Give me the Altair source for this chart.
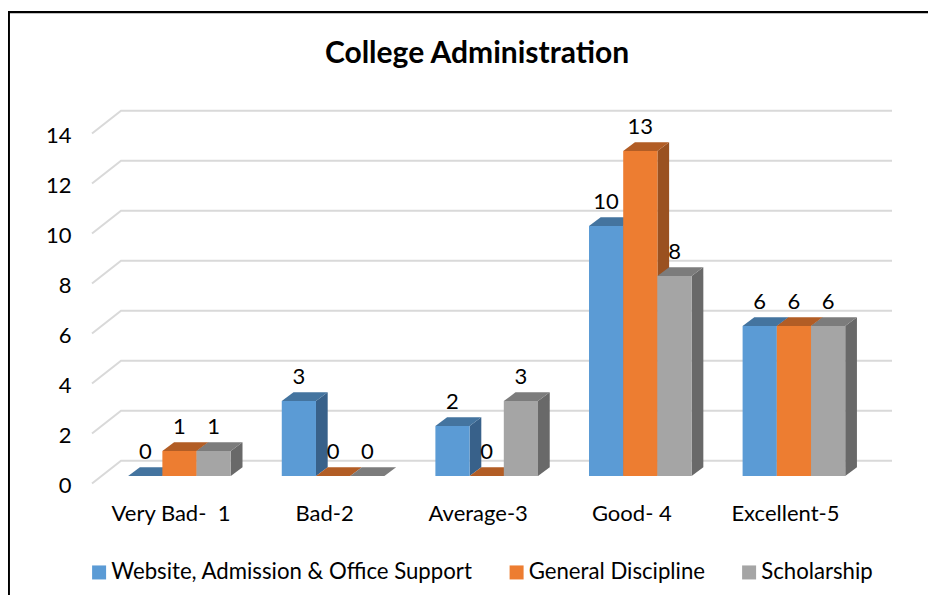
import altair as alt
import pandas as pd

categories = ["Very Bad-\u00a0 1", "Bad-2", "Average-3", "Good- 4", "Excellent-5"]
series = ["Website, Admission & Office Support", "General Discipline", "Scholarship"]
website = [0, 3, 2, 10, 6]
discipline = [1, 0, 0, 13, 6]
scholarship = [1, 0, 3, 8, 6]
y_ticks = [0, 2, 4, 6, 8, 10, 12, 14]
front_colors = ["#5B9BD5", "#ED7D31", "#A5A5A5"]
top_colors = ["#44749F", "#B25D25", "#7C7C7C"]
side_colors = ["#38618A", "#9A5120", "#696969"]

FONT = "Lato"
SIZE = 22
X_DOMAIN = [-0.511, 4.697]
Y_DOMAIN = [-0.3, 14.62]
BAR = 0.2227           # bar width in category units
LEFT = -0.2227 * 1.5 + 0.0585  # first bar's left edge relative to the category
DX, DY = 0.0762, 0.348  # bar depth
WALL_DX, WALL_DY = 0.189, 0.912  # wall depth

xs = alt.Scale(domain=X_DOMAIN, nice=False, zero=False)
ys = alt.Scale(domain=Y_DOMAIN, nice=False, zero=False)
x_axis = alt.Axis(values=list(range(5)), labelExpr=f"{categories}[datum.value]", domain=False, ticks=False,
                  grid=False, labelPadding=20, labelFontSize=SIZE, labelFont=FONT, labelColor="#000000",
                  labelFlush=False, labelOverlap=False, labelBound=False, labelAngle=0)
y_axis = alt.Axis(values=y_ticks, domain=False, ticks=False, grid=False, labelPadding=21, labelFontSize=SIZE,
                  labelFont=FONT, labelColor="#000000", labelOffset=9, labelFlush=False, labelOverlap=False,
                  labelBound=False)


def X():
    return alt.X("x:Q", scale=xs, title=None, axis=x_axis)


def Y():
    return alt.Y("y:Q", scale=ys, title=None, axis=y_axis)


# walls
grid_rows = []
for v in y_ticks:
    grid_rows += [
        {"v": v, "x": X_DOMAIN[0], "y": v - 0.3},
        {"v": v, "x": X_DOMAIN[0] + WALL_DX, "y": v - 0.3 + WALL_DY},
        {"v": v, "x": X_DOMAIN[1], "y": v - 0.3 + WALL_DY},
    ]
grid = alt.Chart(pd.DataFrame(grid_rows)).mark_line(color="#D9D9D9", strokeWidth=2).encode(
    x=X(), y=Y(), detail="v:N",
)

layers = [grid]
label_rows = []
for s, (name, vals) in enumerate(zip(series, [website, discipline, scholarship])):
    front, top, side = [], [], []
    for i, v in enumerate(vals):
        x0 = i + LEFT + s * BAR
        x1 = x0 + BAR
        front.append({"x": x0, "x2": x1, "y": 0, "y2": v, "s": name})
        top += [{"g": i, "y": v, "x": x0, "x2": x1}, {"g": i, "y": v + DY, "x": x0 + DX, "x2": x1 + DX}]
        side += [{"g": i, "x": x1, "y": 0, "y2": v}, {"g": i, "x": x1 + DX, "y": DY, "y2": v + DY}]
        label_rows.append({"x": x0 + BAR / 2, "y": v, "t": str(v)})
    layers.append(alt.Chart(pd.DataFrame(side)).mark_area(orient="vertical", color=side_colors[s]).encode(
        x=X(), y=Y(), y2="y2:Q", detail="g:N"))
    layers.append(alt.Chart(pd.DataFrame(top)).mark_area(orient="horizontal", color=top_colors[s]).encode(
        x=X(), x2="x2:Q", y=Y(), detail="g:N"))
    layers.append(alt.Chart(pd.DataFrame(front)).mark_rect().encode(
        x=X(), x2="x2:Q", y=Y(), y2="y2:Q",
        color=alt.Color("s:N", scale=alt.Scale(domain=series, range=front_colors),
                        legend=alt.Legend(title=None, orient="none", legendX=-4, legendY=450.5, direction="horizontal",
                                          columns=3, symbolType="square", symbolSize=196, symbolStrokeWidth=0,
                                          symbolOpacity=1, labelFont=FONT, labelFontSize=22.2, labelColor="#000000",
                                          labelOffset=1, columnPadding=32.5, labelLimit=500)),
    ))

labels = alt.Chart(pd.DataFrame(label_rows)).mark_text(
    font=FONT, fontSize=SIZE, color="#000000", dy=-24.5, baseline="middle", align="center"
).encode(x=X(), y=Y(), text="t:N")
layers.append(labels)

# page frame
marker = pd.DataFrame({"a": [0]})
left_line = alt.Chart(marker).mark_rule(color="#000000", strokeWidth=2.5).encode(
    x=alt.value(-83.3), y=alt.value(-99.5), y2=alt.value(484.5))
top_line = alt.Chart(marker).mark_rule(color="#000000", strokeWidth=2.3).encode(
    x=alt.value(-84.5), x2=alt.value(836), y=alt.value(-98.3))
layers += [left_line, top_line]

chart = alt.layer(*layers).resolve_scale(x="shared", y="shared").properties(
    width=800, height=373,
    autosize="none",
    padding={"left": 84, "top": 102.5, "right": 36, "bottom": 111.5},
    title=alt.Title("College Administration", font=FONT, fontSize=30, fontWeight="bold", color="#000000",
                    anchor="middle", dx=-15, offset=-59),
).configure_view(stroke=None)

chart.save("out.html", embed_options={"renderer": "svg", "actions": False})
